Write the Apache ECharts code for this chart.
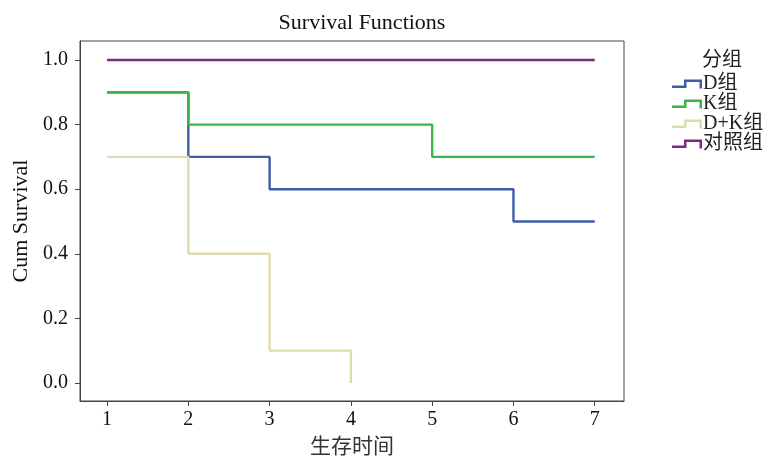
<!DOCTYPE html>
<html>
<head>
<meta charset="utf-8">
<script src="https://cdn.jsdelivr.net/npm/echarts@6/dist/echarts.min.js"></script>
<style>
  html, body { margin: 0; padding: 0; background: #fff; }
  #main { width: 769px; height: 456px; }
</style>
</head>
<body>
<div id="main"></div>
<script>
// survival times and cumulative survival per group (step lines)
const groups = ["D组", "K组", "D+K组", "对照组"];
const dTime = [1, 2, 3, 6, 7];
const dSurv = [0.9, 0.7, 0.6, 0.5, 0.5];
const kTime = [1, 2, 5, 7];
const kSurv = [0.9, 0.8, 0.7, 0.7];
const dkTime = [1, 2, 3, 4, 4];
const dkSurv = [0.7, 0.4, 0.1, 0.1, 0.0];
const ctrlTime = [1, 7];
const ctrlSurv = [1.0, 1.0];
const xTicks = [1, 2, 3, 4, 5, 6, 7];
const yTicks = [0, 0.2, 0.4, 0.6, 0.8, 1.0];

const colors = ["#3f5ca8", "#3bb44a", "#e0dbaa", "#7b2a80"];
const font = "'Liberation Serif', 'Noto Sans CJK SC', serif";
const stepIcon = "path://M0,6 L12,6 L12,0 L30,0 L30,9 L27.5,9 L27.5,2.5 L14.5,2.5 L14.5,8.5 L0,8.5 Z";

function pairs(xs, ys) {
  let out = [];
  for (let i = 0; i < xs.length; i++) out.push([xs[i], ys[i]]);
  return out;
}

const seriesData = [
  pairs(dTime, dSurv),
  pairs(kTime, kSurv),
  pairs(dkTime, dkSurv),
  pairs(ctrlTime, ctrlSurv),
];

let chart = echarts.init(document.getElementById("main"));
chart.setOption({
  animation: false,
  color: colors,
  title: [
    {
      text: "Survival Functions",
      left: 357,
      top: 7,
      textAlign: "center",
      textStyle: { fontFamily: font, fontSize: 22, fontWeight: "normal", color: "#111" },
    },
    {
      text: "分组",
      left: 717,
      top: 46,
      textAlign: "center",
      textStyle: { fontFamily: font, fontSize: 20, fontWeight: "normal", color: "#222" },
    },
  ],
  legend: {
    orient: "vertical",
    left: 672,
    top: 74,
    padding: 0,
    itemGap: 0,
    itemWidth: 30,
    itemHeight: 9,
    icon: stepIcon,
    data: groups,
    textStyle: { fontFamily: font, fontSize: 20, lineHeight: 19, color: "#222", padding: [0, 0, 0, -4] },
  },
  grid: {
    left: 80,
    right: 145,
    top: 41,
    bottom: 55,
    outerBoundsMode: "none",
    containLabel: false,
    show: true,
    borderColor: "#444",
    borderWidth: 1,
  },
  xAxis: {
    type: "value",
    min: 0.667,
    max: 7.36,
    name: "生存时间",
    nameLocation: "middle",
    nameGap: 36,
    nameTextStyle: { fontFamily: font, fontSize: 21, color: "#333" },
    axisLine: { show: true, onZero: false, lineStyle: { color: "#444" } },
    axisTick: { show: true, length: 5, customValues: xTicks, lineStyle: { color: "#444" } },
    axisLabel: { customValues: xTicks, fontFamily: font, fontSize: 20, color: "#111", margin: 9 },
    splitLine: { show: false },
  },
  yAxis: {
    type: "value",
    min: -0.056,
    max: 1.059,
    name: "Cum Survival",
    nameLocation: "middle",
    nameGap: 47,
    nameTextStyle: { fontFamily: font, fontSize: 22, color: "#111" },
    axisLine: { show: true, onZero: false, lineStyle: { color: "#444" } },
    axisTick: { show: true, length: 5, customValues: yTicks, lineStyle: { color: "#444" } },
    axisLabel: {
      customValues: yTicks,
      fontFamily: font,
      fontSize: 20,
      color: "#111",
      margin: 12,
      formatter: function (v) { return v.toFixed(1); },
    },
    splitLine: { show: false },
  },
  series: groups.map(function (name, i) {
    return {
      name: name,
      type: "line",
      step: "end",
      data: seriesData[i],
      symbol: "none",
      lineStyle: { width: 2.4, color: colors[i] },
      itemStyle: { color: colors[i] },
    };
  }),
});
</script>
</body>
</html>
